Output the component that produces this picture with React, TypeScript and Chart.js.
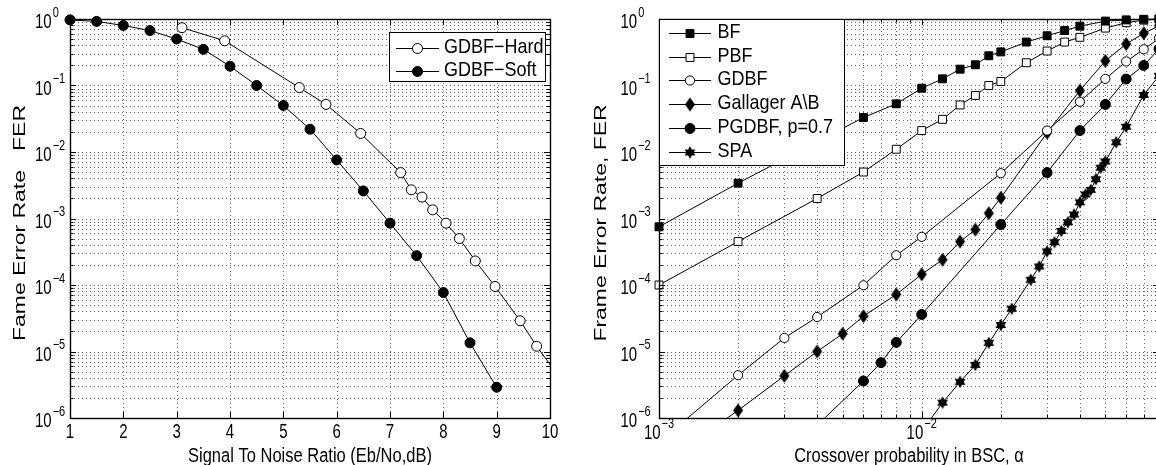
import React, { useEffect, useRef } from 'react';
import { Chart, registerables } from 'chart.js';

Chart.register(...registerables);

// ================= Left panel: FER vs SNR =================
const snrHard = [3.1, 3.9, 5.3, 5.8, 6.45, 7.2, 7.4, 7.6, 7.8, 8.05, 8.3, 8.6, 8.97, 9.44, 9.75, 10.25];
const ferHard = [0.74, 0.47, 0.093, 0.052, 0.019, 0.0049, 0.0027, 0.0021, 0.00135, 0.00085, 0.0005, 0.00023, 0.000095, 0.000029, 0.000012, 0.0000034];
const snrSoft = [1, 1.5, 2, 2.5, 3, 3.5, 4, 4.5, 5, 5.5, 6, 6.5, 7, 7.5, 8, 8.5, 9];
const ferSoft = [0.97, 0.92, 0.8, 0.67, 0.5, 0.35, 0.195, 0.1, 0.05, 0.022, 0.0076, 0.0026, 0.00085, 0.000276, 0.000077, 0.0000135, 0.0000029];
const snrTicks = [1, 2, 3, 4, 5, 6, 7, 8, 9, 10];
const snrTickLabels = ['1', '2', '3', '4', '5', '6', '7', '8', '9', '10'];
const ferTickExponents = [0, -1, -2, -3, -4, -5, -6];

// ================= Right panel: FER vs crossover probability =================
const alphaBF = [0.001, 0.002, 0.006, 0.008, 0.01, 0.012, 0.014, 0.016, 0.018, 0.02, 0.025, 0.03, 0.035, 0.04, 0.05, 0.06, 0.07, 0.08];
const ferBF = [0.00075, 0.0034, 0.033, 0.053, 0.091, 0.126, 0.176, 0.205, 0.28, 0.32, 0.45, 0.56, 0.67, 0.78, 0.93, 0.97, 0.99, 1.0];
const alphaPBF = [0.001, 0.002, 0.004, 0.006, 0.008, 0.01, 0.012, 0.014, 0.016, 0.018, 0.02, 0.025, 0.03, 0.035, 0.04, 0.05, 0.06, 0.07, 0.08];
const ferPBF = [0.0001, 0.00045, 0.002, 0.005, 0.011, 0.021, 0.031, 0.051, 0.071, 0.1, 0.115, 0.22, 0.33, 0.45, 0.53, 0.73, 0.88, 0.96, 1.0];
const alphaGDBF = [0.001, 0.002, 0.003, 0.004, 0.006, 0.008, 0.01, 0.02, 0.03, 0.04, 0.05, 0.06, 0.07, 0.08];
const ferGDBF = [0.00000043, 0.0000044, 0.000016, 0.000033, 0.000099, 0.00028, 0.00053, 0.0048, 0.021, 0.057, 0.126, 0.23, 0.35, 0.51];
const alphaGal = [0.001, 0.002, 0.003, 0.004, 0.005, 0.006, 0.008, 0.01, 0.012, 0.014, 0.016, 0.018, 0.02, 0.03, 0.04, 0.05, 0.06, 0.07, 0.08];
const ferGal = [0.00000019, 0.0000013, 0.0000043, 0.00001, 0.0000185, 0.000034, 0.000072, 0.000145, 0.00024, 0.00045, 0.00068, 0.0012, 0.00205, 0.0195, 0.084, 0.235, 0.42, 0.61, 0.79];
const alphaPGDBF = [0.004, 0.006, 0.007, 0.008, 0.01, 0.02, 0.03, 0.04, 0.05, 0.06, 0.07, 0.08];
const ferPGDBF = [0.00000078, 0.0000036, 0.0000068, 0.0000137, 0.000036, 0.00081, 0.0049, 0.021, 0.052, 0.125, 0.2, 0.355];
const alphaSPA = [0.01, 0.012, 0.014, 0.016, 0.018, 0.02, 0.022, 0.026, 0.028, 0.03, 0.032, 0.034, 0.036, 0.038, 0.04, 0.042, 0.044, 0.046, 0.048, 0.05, 0.055, 0.06, 0.07, 0.08];
const ferSPA = [0.00000063, 0.0000017, 0.0000035, 0.0000063, 0.0000135, 0.000025, 0.000044, 0.00012, 0.00019, 0.00032, 0.00044, 0.00065, 0.00088, 0.00115, 0.00175, 0.0023, 0.0027, 0.0039, 0.0058, 0.0072, 0.014, 0.024, 0.072, 0.14];
const alphaTickValues = [0.001, 0.01];
const alphaTickExponents = [-3, -2];

// ================= Styling helpers =================
const FONT_FAMILY = '"Liberation Sans", Arial, Helvetica, sans-serif';
const TICK_SIZE = 15;
const SUP_SIZE = 11;
const TICK_SY = 1.3;
const TITLE_SIZE = 16.5;
const TITLE_SY = 1.2;
const YTITLE_SIZE = 17;
const YTITLE_STRETCH = 1.35;
const LEGEND_SIZE = 18;
const LEGEND_SY = 1.1;
const GRID_COLOR = 'rgba(0,0,0,0.6)';

function logGrid(minExp: number, maxVal: number): number[] {
  const out: number[] = [];
  for (let e = minExp; e < 5; e++) {
    for (let m = 1; m <= 9; m++) {
      const v = parseFloat((m * Math.pow(10, e)).toPrecision(8));
      if (v > maxVal * (1 + 1e-9)) return out;
      out.push(v);
    }
  }
  return out;
}

function isDecade(v: number) {
  const l = Math.log10(v);
  return Math.abs(l - Math.round(l)) < 1e-9;
}

function drawText(ctx: CanvasRenderingContext2D, s: string, x: number, y: number, size: number, align: CanvasTextAlign, sy: number) {
  ctx.save();
  ctx.translate(x, y);
  ctx.scale(1, sy);
  ctx.font = `${size}px ${FONT_FAMILY}`;
  ctx.textAlign = align;
  ctx.textBaseline = 'middle';
  ctx.fillStyle = '#000';
  ctx.fillText(s, 0, 0);
  ctx.restore();
}

function textWidth(ctx: CanvasRenderingContext2D, s: string, size: number) {
  ctx.save();
  ctx.font = `${size}px ${FONT_FAMILY}`;
  const w = ctx.measureText(s).width;
  ctx.restore();
  return w;
}

function expText(e: number) {
  return e < 0 ? '\u2212' + Math.abs(e) : String(e);
}

function drawPow(ctx: CanvasRenderingContext2D, x: number, y: number, e: number, anchor: 'left' | 'center') {
  const w10 = textWidth(ctx, '10', TICK_SIZE);
  const es = expText(e);
  const ws = textWidth(ctx, es, SUP_SIZE);
  const gap = 1;
  const start = anchor === 'left' ? x : x - (w10 + gap + ws) / 2;
  drawText(ctx, '10', start, y + 4, TICK_SIZE, 'left', TICK_SY);
  drawText(ctx, es, start + w10 + gap, y - 6, SUP_SIZE, 'left', TICK_SY);
}

function drawMarker(ctx: CanvasRenderingContext2D, ds: any, x: number, y: number) {
  const st = ds.pointStyle;
  if (typeof st === 'object' && st) {
    ctx.drawImage(st, x - st.width / 2, y - st.height / 2, st.width, st.height);
    return;
  }
  const r = ds.pointRadius;
  ctx.beginPath();
  if (st === 'rect') {
    const s = r * Math.SQRT1_2;
    ctx.rect(x - s, y - s, 2 * s, 2 * s);
  } else {
    ctx.arc(x, y, r, 0, Math.PI * 2);
  }
  ctx.fillStyle = ds.pointBackgroundColor;
  ctx.fill();
  ctx.lineWidth = 1;
  ctx.strokeStyle = '#000';
  ctx.stroke();
}

function makeDiamond(): HTMLCanvasElement {
  const c = document.createElement('canvas');
  c.width = 12;
  c.height = 16;
  const g = c.getContext('2d')!;
  g.beginPath();
  g.moveTo(6, 1);
  g.lineTo(11, 8);
  g.lineTo(6, 15);
  g.lineTo(1, 8);
  g.closePath();
  g.fillStyle = '#000';
  g.fill();
  return c;
}

function makeHexagram(): HTMLCanvasElement {
  const c = document.createElement('canvas');
  c.width = 14;
  c.height = 14;
  const g = c.getContext('2d')!;
  const cx = 7, cy = 7, R = 6.2;
  g.fillStyle = '#000';
  for (const off of [-90, 90]) {
    g.beginPath();
    for (let k = 0; k < 3; k++) {
      const a = ((off + k * 120) * Math.PI) / 180;
      const px = cx + R * Math.cos(a);
      const py = cy + R * Math.sin(a);
      if (k === 0) g.moveTo(px, py);
      else g.lineTo(px, py);
    }
    g.closePath();
    g.fill();
  }
  return c;
}

type PanelSpec = {
  xKind: 'linear' | 'log';
  xLabelValues: number[];
  xLabels: string[];
  xExps: number[];
  xLabelY: number;
  yLabelValues: number[];
  yExps: number[];
  yLabelX: number;
  xTitle: string;
  xTitleY: number;
  yTitle: string;
  yTitleX: number;
  yTitleY: number;
  legend: { x: number; y: number; w: number; h: number; rowY: number[]; lineX0: number; lineX1: number; textX: number };
};

function makePanelPlugin(spec: PanelSpec) {
  return {
    id: 'matlabPanel',
    beforeDatasetsDraw(chart: any) {
      const { ctx, chartArea: a } = chart;
      const xs = chart.scales.x;
      const ys = chart.scales.y;
      ctx.save();
      ctx.strokeStyle = GRID_COLOR;
      ctx.lineWidth = 1;
      ctx.setLineDash([1, 3]);
      for (const t of xs.ticks) {
        const px = Math.round(xs.getPixelForValue(t.value)) + 0.5;
        if (px < a.left + 2 || px > a.right - 2) continue;
        ctx.beginPath();
        ctx.moveTo(px, a.top);
        ctx.lineTo(px, a.bottom);
        ctx.stroke();
      }
      for (const t of ys.ticks) {
        const py = Math.round(ys.getPixelForValue(t.value)) + 0.5;
        if (py < a.top + 2 || py > a.bottom - 2) continue;
        ctx.beginPath();
        ctx.moveTo(a.left, py);
        ctx.lineTo(a.right, py);
        ctx.stroke();
      }
      ctx.restore();
    },
    afterDatasetsDraw(chart: any) {
      const { ctx, chartArea: a } = chart;
      const xs = chart.scales.x;
      const ys = chart.scales.y;
      ctx.save();
      ctx.setLineDash([]);
      ctx.strokeStyle = '#000';
      ctx.lineWidth = 1;
      // inward tick marks
      for (const t of ys.ticks) {
        const py = Math.round(ys.getPixelForValue(t.value)) + 0.5;
        const len = isDecade(t.value) ? 6 : 3.5;
        ctx.beginPath();
        ctx.moveTo(a.left, py);
        ctx.lineTo(a.left + len, py);
        ctx.moveTo(a.right, py);
        ctx.lineTo(a.right - len, py);
        ctx.stroke();
      }
      for (const t of xs.ticks) {
        const px = Math.round(xs.getPixelForValue(t.value)) + 0.5;
        const len = spec.xKind === 'linear' || isDecade(t.value) ? 6 : 3.5;
        ctx.beginPath();
        ctx.moveTo(px, a.bottom);
        ctx.lineTo(px, a.bottom - len);
        ctx.moveTo(px, a.top);
        ctx.lineTo(px, a.top + len);
        ctx.stroke();
      }
      // axes box
      ctx.lineWidth = 1.4;
      ctx.strokeRect(Math.round(a.left) + 0.5, Math.round(a.top) + 0.5, Math.round(a.right - a.left), Math.round(a.bottom - a.top));
      ctx.restore();

      // tick labels
      spec.yLabelValues.forEach((v, i) => {
        drawPow(ctx, spec.yLabelX, ys.getPixelForValue(v), spec.yExps[i], 'left');
      });
      if (spec.xKind === 'linear') {
        spec.xLabelValues.forEach((v, i) => {
          drawText(ctx, spec.xLabels[i], xs.getPixelForValue(v), spec.xLabelY, TICK_SIZE, 'center', TICK_SY);
        });
      } else {
        spec.xLabelValues.forEach((v, i) => {
          drawPow(ctx, xs.getPixelForValue(v), spec.xLabelY - 4, spec.xExps[i], 'center');
        });
      }
      // axis titles
      drawText(ctx, spec.xTitle, (a.left + a.right) / 2, spec.xTitleY, TITLE_SIZE, 'center', TITLE_SY);
      ctx.save();
      ctx.translate(spec.yTitleX, spec.yTitleY);
      ctx.rotate(-Math.PI / 2);
      ctx.scale(YTITLE_STRETCH, 1);
      ctx.font = `${YTITLE_SIZE}px ${FONT_FAMILY}`;
      ctx.textAlign = 'center';
      ctx.textBaseline = 'middle';
      ctx.fillStyle = '#000';
      ctx.fillText(spec.yTitle, 0, 0);
      ctx.restore();

      // legend
      const L = spec.legend;
      ctx.save();
      ctx.fillStyle = '#fff';
      ctx.fillRect(L.x, L.y, L.w, L.h);
      ctx.strokeStyle = '#000';
      ctx.lineWidth = 1;
      ctx.strokeRect(L.x + 0.5, L.y + 0.5, L.w - 1, L.h - 1);
      chart.data.datasets.forEach((ds: any, i: number) => {
        const ry = L.rowY[i];
        ctx.beginPath();
        ctx.moveTo(L.lineX0, Math.round(ry) + 0.5);
        ctx.lineTo(L.lineX1, Math.round(ry) + 0.5);
        ctx.strokeStyle = '#000';
        ctx.lineWidth = 1;
        ctx.stroke();
        drawMarker(ctx, ds, (L.lineX0 + L.lineX1) / 2, Math.round(ry) + 0.5);
        drawText(ctx, ds.label, L.textX, ry, LEGEND_SIZE, 'left', LEGEND_SY);
      });
      ctx.restore();
    },
  };
}

function series(label: string, xs: number[], ys: number[], style: any, filled: boolean, radius: number, clip: any) {
  return {
    label,
    data: xs.map((x, i) => ({ x, y: ys[i] })),
    borderColor: '#000',
    borderWidth: 1,
    backgroundColor: filled ? '#000' : '#fff',
    pointStyle: style,
    pointRadius: radius,
    pointHoverRadius: radius,
    pointBorderWidth: 1,
    pointBorderColor: '#000',
    pointBackgroundColor: filled ? '#000' : '#fff',
    fill: false,
    tension: 0,
    clip,
  };
}

function hiddenScale(extra: any) {
  return {
    ticks: { display: false },
    grid: { display: false },
    border: { display: false },
    title: { display: false },
    ...extra,
  };
}

const PLOT_TOP = 19;
const X_AXIS_HEIGHT = 47;

export default function App() {
  const leftRef = useRef<HTMLCanvasElement>(null);
  const rightRef = useRef<HTMLCanvasElement>(null);

  useEffect(() => {
    const diamond = makeDiamond();
    const hexagram = makeHexagram();
    const leftClip = { left: false, top: false, right: 0, bottom: 0 };
    const rightClip = { left: false, top: false, right: false, bottom: 0 };

    const leftSpec: PanelSpec = {
      xKind: 'linear',
      xLabelValues: snrTicks,
      xLabels: snrTickLabels,
      xExps: [],
      xLabelY: 433,
      yLabelValues: ferTickExponents.map((e) => Math.pow(10, e)),
      yExps: ferTickExponents,
      yLabelX: 35,
      xTitle: 'Signal To Noise Ratio (Eb/No,dB)',
      xTitleY: 457,
      yTitle: 'Fame Error Rate   FER',
      yTitleX: 20,
      yTitleY: 223,
      legend: { x: 389, y: 32, w: 157, h: 50, rowY: [48, 71], lineX0: 396, lineX1: 439, textX: 444 },
    };

    const rightSpec: PanelSpec = {
      xKind: 'log',
      xLabelValues: alphaTickValues,
      xLabels: [],
      xExps: alphaTickExponents,
      xLabelY: 434,
      yLabelValues: ferTickExponents.map((e) => Math.pow(10, e)),
      yExps: ferTickExponents,
      yLabelX: 40.5,
      xTitle: 'Crossover probability in BSC, \u03B1',
      xTitleY: 457,
      yTitle: 'Frame Error Rate, FER',
      yTitleX: 21,
      yTitleY: 223,
      legend: { x: 79, y: 19, w: 186, h: 147, rowY: [33, 56.5, 80, 104, 128, 152], lineX0: 89, lineX1: 131, textX: 137.5 },
    };

    const left = new Chart(leftRef.current!, {
      type: 'line',
      data: {
        datasets: [
          series('GDBF\u2212Hard', snrHard, ferHard, 'circle', false, 5, leftClip),
          series('GDBF\u2212Soft', snrSoft, ferSoft, 'circle', true, 5, leftClip),
        ] as any,
      },
      options: {
        responsive: false,
        animation: false,
        devicePixelRatio: 1,
        events: [],
        layout: { padding: { left: 0, right: 30, top: PLOT_TOP, bottom: 0 } },
        plugins: { legend: { display: false }, tooltip: { enabled: false } },
        scales: {
          x: hiddenScale({
            type: 'linear',
            min: 1,
            max: 10,
            afterBuildTicks: (s: any) => { s.ticks = snrTicks.map((v) => ({ value: v })); },
            afterFit: (s: any) => { s.height = X_AXIS_HEIGHT; },
          }),
          y: hiddenScale({
            type: 'logarithmic',
            min: 1e-6,
            max: 1,
            afterBuildTicks: (s: any) => { s.ticks = logGrid(-6, 1).map((v) => ({ value: v })); },
            afterFit: (s: any) => { s.width = 70; },
          }),
        },
      } as any,
      plugins: [makePanelPlugin(leftSpec) as any],
    });

    const right = new Chart(rightRef.current!, {
      type: 'line',
      data: {
        datasets: [
          series('BF', alphaBF, ferBF, 'rect', true, 5.6, rightClip),
          series('PBF', alphaPBF, ferPBF, 'rect', false, 5.6, rightClip),
          series('GDBF', alphaGDBF, ferGDBF, 'circle', false, 4.6, rightClip),
          series('Gallager A\\B', alphaGal, ferGal, diamond, true, 5, rightClip),
          series('PGDBF, p=0.7', alphaPGDBF, ferPGDBF, 'circle', true, 5, rightClip),
          series('SPA', alphaSPA, ferSPA, hexagram, true, 5, rightClip),
        ] as any,
      },
      options: {
        responsive: false,
        animation: false,
        devicePixelRatio: 1,
        events: [],
        layout: { padding: { left: 0, right: 21, top: PLOT_TOP, bottom: 0 } },
        plugins: { legend: { display: false }, tooltip: { enabled: false } },
        scales: {
          x: hiddenScale({
            type: 'logarithmic',
            min: 0.001,
            max: 0.08,
            afterBuildTicks: (s: any) => { s.ticks = logGrid(-3, 0.08).map((v) => ({ value: v })); },
            afterFit: (s: any) => { s.height = X_AXIS_HEIGHT; },
          }),
          y: hiddenScale({
            type: 'logarithmic',
            min: 1e-6,
            max: 1,
            afterBuildTicks: (s: any) => { s.ticks = logGrid(-6, 1).map((v) => ({ value: v })); },
            afterFit: (s: any) => { s.width = 79; },
          }),
        },
      } as any,
      plugins: [makePanelPlugin(rightSpec) as any],
    });

    return () => {
      left.destroy();
      right.destroy();
    };
  }, []);

  return (
    <div style={{ position: 'fixed', left: 0, top: 0, width: 1156, height: 465, overflow: 'hidden', background: '#fff' }}>
      <canvas ref={leftRef} width={580} height={465} style={{ position: 'absolute', left: 0, top: 0, width: 580, height: 465 }} />
      <canvas ref={rightRef} width={600} height={465} style={{ position: 'absolute', left: 580, top: 0, width: 600, height: 465 }} />
    </div>
  );
}
